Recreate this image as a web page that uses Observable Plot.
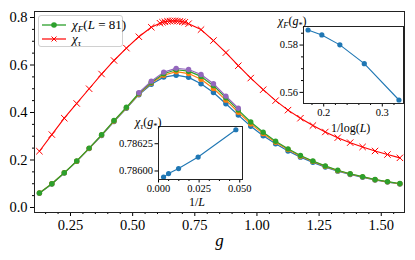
<!DOCTYPE html>
<html><head><meta charset="utf-8">
<script src="https://cdn.jsdelivr.net/npm/d3@7"></script>
<script src="https://cdn.jsdelivr.net/npm/@observablehq/plot@0.6"></script>
<style>
body{margin:0;background:#fff;}
#wrap{position:relative;width:415px;height:260px;overflow:hidden;}
#wrap svg{position:absolute;overflow:visible;}
#wrap svg text{font-family:"Liberation Serif",serif !important;}
.lbl{position:absolute;white-space:nowrap;font-family:"Liberation Serif",serif;color:#000;line-height:1;}
.lbl sub{font-size:70%;vertical-align:-0.3em;line-height:0;}
#legend{position:absolute;left:38px;top:15px;width:85px;height:32px;border:1px solid #d0d0d0;border-radius:3px;background:rgba(255,255,255,0.8);box-sizing:border-box;}
#legend .row{position:absolute;left:3px;height:14px;display:flex;align-items:center;font-family:"Liberation Serif",serif;font-size:13px;white-space:nowrap;}
#legend .row svg{position:static;margin-right:6px;}
#legend sub{font-size:70%;vertical-align:-0.3em;line-height:0;}
</style></head><body><div id="wrap"></div>
<script>
// main plot x grid (g)
const gGrid = [0.125,0.175,0.225,0.275,0.325,0.375,0.425,0.475,0.525,0.575,0.625,0.675,0.725,0.775,0.825,0.875,0.925,0.975,1.025,1.075,1.125,1.175,1.225,1.275,1.325,1.375,1.425,1.475,1.525,1.575];
// chi_F for L = 21 (blue), 41 (orange), 81 (green)
const chiF21 = [0.060,0.099,0.145,0.194,0.248,0.303,0.362,0.418,0.475,0.519,0.549,0.557,0.548,0.521,0.484,0.437,0.389,0.342,0.302,0.268,0.238,0.212,0.190,0.170,0.153,0.139,0.127,0.116,0.107,0.099];
const chiF41 = [0.061,0.100,0.146,0.195,0.249,0.305,0.364,0.420,0.478,0.524,0.557,0.572,0.564,0.540,0.501,0.452,0.401,0.352,0.311,0.275,0.244,0.216,0.194,0.173,0.155,0.141,0.129,0.117,0.108,0.100];
const chiF81 = [0.061,0.100,0.146,0.196,0.250,0.306,0.366,0.422,0.481,0.527,0.563,0.580,0.574,0.552,0.513,0.462,0.410,0.360,0.317,0.279,0.247,0.219,0.196,0.175,0.157,0.142,0.130,0.118,0.109,0.101];
// chi_F for L = 321 (purple), narrow window
const gNarrow = [0.525,0.575,0.625,0.675,0.725,0.775,0.825,0.875,0.925];
const chiF321 = [0.483,0.532,0.570,0.586,0.581,0.560,0.521,0.469,0.418];
// chi_tau
const gTau = [0.125,0.175,0.225,0.275,0.325,0.375,0.425,0.475,0.525,0.575,0.61,0.62,0.63,0.64,0.65,0.66,0.67,0.68,0.69,0.70,0.71,0.725,0.775,0.825,0.875,0.925,0.975,1.025,1.075,1.125,1.175,1.225,1.275,1.325,1.375,1.425,1.475,1.525,1.575];
const chiTau = [0.237,0.307,0.376,0.438,0.500,0.562,0.619,0.671,0.719,0.759,0.776,0.780,0.782,0.784,0.785,0.786,0.786,0.785,0.784,0.782,0.780,0.774,0.749,0.703,0.652,0.597,0.545,0.496,0.450,0.410,0.376,0.345,0.318,0.294,0.273,0.255,0.238,0.223,0.209];
// insets
const Ls = [321,161,81,41,21];
const chiTauStar = [0.785945,0.785976,0.786022,0.786128,0.786378];
const chiFStar = [0.58636,0.58427,0.58008,0.57213,0.55678];
// ticks
const xMajor = [0.25,0.50,0.75,1.00,1.25,1.50];
const xMinor = [0.15,0.20,0.30,0.35,0.40,0.45,0.55,0.60,0.65,0.70,0.80,0.85,0.90,0.95,1.05,1.10,1.15,1.20,1.30,1.35,1.40,1.45,1.55];
const yMajor = [0.0,0.2,0.4,0.6,0.8];
const yMinor = [0.05,0.10,0.15,0.25,0.30,0.35,0.45,0.50,0.55,0.65,0.70,0.75];
const in1XMajor = [0,0.025,0.05];
const in1XMinor = [0.00625,0.0125,0.01875,0.03125,0.0375,0.04375];
const in1YMajor = [0.786,0.78625];
const in2XMajor = [0.2,0.3];
const in2XMinor = [0.18,0.22,0.24,0.26,0.28,0.32];
const in2YMajor = [0.56,0.58];
const in2YMinor = [0.565,0.57,0.575,0.585];

const C = {blue:"#1f77b4",orange:"#ff7f0e",green:"#2ca02c",purple:"#9467bd",red:"#ff0000"};
const font = "Liberation Serif";
const rows = (xs, ys) => xs.map((x,i)=>({x, y: ys[i]}));
const blank = () => "";

function series(data, color){
  return [
    Plot.line(data,{x:"x",y:"y",stroke:color,strokeWidth:1.2}),
    Plot.dot(data,{x:"x",y:"y",fill:color,r:2.7,stroke:"none"})
  ];
}

const wrap = document.getElementById("wrap");

const main = Plot.plot({
  width:415, height:260, marginLeft:34, marginRight:11, marginTop:11, marginBottom:48,
  style:{fontFamily:font, fontSize:"14.5px", color:"#000", background:"transparent", overflow:"visible"},
  x:{domain:[0.1052,1.5935]},
  y:{domain:[-0.0211,0.8253]},
  marks:[
    Plot.axisX(xMajor,{tickSize:4, tickPadding:3, tickFormat:d3.format(".2f"), label:null}),
    Plot.axisX(xMinor,{tickSize:2, tickFormat:blank, label:null}),
    Plot.axisY(yMajor,{tickSize:4, tickPadding:3, tickFormat:d3.format(".1f"), label:null}),
    Plot.axisY(yMinor,{tickSize:2, tickFormat:blank, label:null}),
    ...series(rows(gGrid,chiF21), C.blue),
    ...series(rows(gGrid,chiF41), C.orange),
    ...series(rows(gGrid,chiF81), C.green),
    ...series(rows(gNarrow,chiF321), C.purple),
    Plot.line(rows(gTau,chiTau),{x:"x",y:"y",stroke:C.red,strokeWidth:1.1}),
    Plot.dot(rows(gTau,chiTau),{x:"x",y:"y",stroke:C.red,symbol:"times",r:3,strokeWidth:1}),
    Plot.frame({stroke:"#222",strokeWidth:1}),
    Plot.text(["g"],{frameAnchor:"bottom", dy:33, fontStyle:"italic", fontSize:17})
  ]
});
main.style.left="0px"; main.style.top="0px";
wrap.appendChild(main);

// inset 1: chi_tau(g*) vs 1/L
const in1 = Plot.plot({
  width:144, height:86, marginLeft:50, marginRight:10, marginTop:5, marginBottom:28,
  style:{fontFamily:font, fontSize:"10.5px", color:"#000", background:"transparent", overflow:"visible"},
  x:{domain:[0,0.0517]},
  y:{domain:[0.785922,0.786408]},
  marks:[
    Plot.frame({fill:"white",stroke:"none"}),
    Plot.axisX(in1XMajor,{tickSize:3.5, tickPadding:2, tickFormat:d3.format(".3f"), label:null}),
    Plot.axisX(in1XMinor,{tickSize:2, tickFormat:blank, label:null}),
    Plot.axisY(in1YMajor,{tickSize:3.5, tickPadding:2, tickFormat:d3.format(".5f"), label:null}),
    Plot.line(rows(Ls.map(L=>1/L),chiTauStar),{x:"x",y:"y",stroke:C.blue,strokeWidth:1.1}),
    Plot.dot(rows(Ls.map(L=>1/L),chiTauStar),{x:"x",y:"y",fill:C.blue,r:2.6}),
    Plot.frame({stroke:"#222",strokeWidth:1})
  ]
});
in1.style.left="108px"; in1.style.top="121px";
wrap.appendChild(in1);

// inset 2: chi_F(g*) vs 1/log(L)
const lx = Ls.map(L=>1/Math.log(L));
const lxr = d3.max(lx)-d3.min(lx), lyr = d3.max(chiFStar)-d3.min(chiFStar);
const in2 = Plot.plot({
  width:134, height:111, marginLeft:30, marginRight:4, marginTop:4, marginBottom:30,
  style:{fontFamily:font, fontSize:"10.5px", color:"#000", background:"transparent", overflow:"visible"},
  x:{domain:[d3.min(lx)-0.05*lxr, d3.max(lx)+0.05*lxr]},
  y:{domain:[d3.min(chiFStar)-0.05*lyr, d3.max(chiFStar)+0.05*lyr]},
  marks:[
    Plot.frame({fill:"white",stroke:"none"}),
    Plot.axisX(in2XMajor,{tickSize:3.5, tickPadding:2, tickFormat:d3.format(".1f"), label:null}),
    Plot.axisX(in2XMinor,{tickSize:2, tickFormat:blank, label:null}),
    Plot.axisY(in2YMajor,{tickSize:3.5, tickPadding:2, tickFormat:d3.format(".2f"), label:null}),
    Plot.axisY(in2YMinor,{tickSize:2, tickFormat:blank, label:null}),
    Plot.line(rows(lx,chiFStar),{x:"x",y:"y",stroke:C.blue,strokeWidth:1.1}),
    Plot.dot(rows(lx,chiFStar),{x:"x",y:"y",fill:C.blue,r:2.6}),
    Plot.frame({stroke:"#222",strokeWidth:1})
  ]
});
in2.style.left="273px"; in2.style.top="22px";
wrap.appendChild(in2);

// text labels
function label(html, left, top, size){
  const d=document.createElement("div"); d.className="lbl"; d.innerHTML=html;
  d.style.left=left+"px"; d.style.top=top+"px"; d.style.fontSize=size+"px";
  wrap.appendChild(d); return d;
}
label("<i>χ</i><sub><i>τ</i></sub>(<i>g</i><sub>*</sub>)", 135, 116, 12);
label("<i>χ</i><sub><i>F</i></sub>(<i>g</i><sub>*</sub>)", 278, 15, 12);
label("1/<i>L</i>", 189, 196, 12);
label("1/log(<i>L</i>)", 331, 122, 12);

// legend
const lg=document.createElement("div"); lg.id="legend";
const sym1 = `<svg width="24" height="10"><line x1="0" y1="5" x2="24" y2="5" stroke="${C.green}" stroke-width="1.3"/><circle cx="12" cy="5" r="2.8" fill="${C.green}"/></svg>`;
const sym2 = `<svg width="24" height="10"><line x1="0" y1="5" x2="24" y2="5" stroke="${C.red}" stroke-width="1.2"/><path d="M9.5,2.5L14.5,7.5M9.5,7.5L14.5,2.5" stroke="${C.red}" stroke-width="1"/></svg>`;
lg.innerHTML = `<div class="row" style="top:2px">${sym1}<span><i>χ</i><sub><i>F</i></sub>(<i>L</i> = 81)</span></div>`+
  `<div class="row" style="top:16px">${sym2}<span><i>χ</i><sub><i>τ</i></sub></span></div>`;
wrap.appendChild(lg);
</script></body></html>
